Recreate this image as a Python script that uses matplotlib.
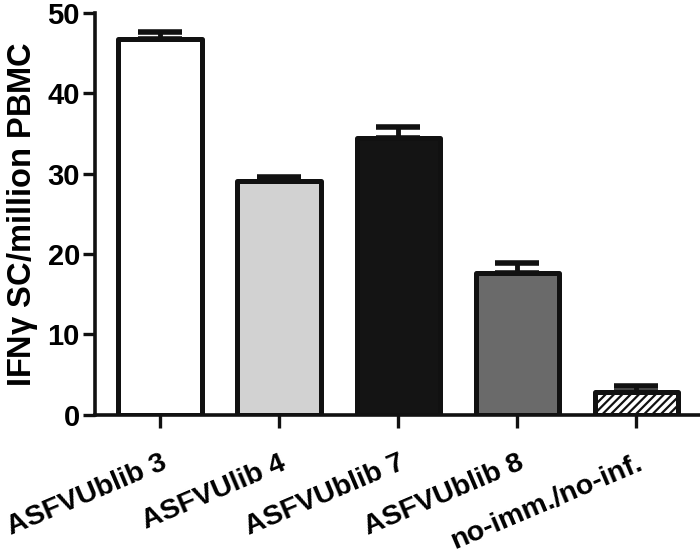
import numpy as np
import matplotlib
matplotlib.use("Agg")
import matplotlib.pyplot as plt

plt.rcParams["font.family"] = ["Liberation Sans", "DejaVu Sans"]
plt.rcParams["font.weight"] = "bold"
plt.rcParams["hatch.linewidth"] = 1.6

# values
groups = ["ASFVUblib 3", "ASFVUlib 4", "ASFVUblib 7", "ASFVUblib 8", "no-imm./no-inf."]
means = [46.8, 29.1, 34.4, 17.6, 2.8]
sem = [0.8, 0.5, 1.4, 1.3, 0.8]
fills = ["white", "#d2d2d2", "#141414", "#6a6a6a", "white"]
hatches = ["", "", "", "", "////"]

fig = plt.figure(figsize=(7, 5.56), dpi=100)
ax = fig.add_axes([0.136, 0.254, 0.864, 0.723])

x = np.arange(len(groups))
ax.errorbar(x, means, yerr=[np.zeros(len(sem)), sem], fmt="none", ecolor="#111111",
            elinewidth=3.5, capsize=16, capthick=4, zorder=1)
bars = ax.bar(x, means, width=0.7, color=fills, edgecolor="#111111", linewidth=3.6,
              zorder=2)
for b, h in zip(bars, hatches):
    b.set_hatch(h)
    b.set_joinstyle("round")

ax.set_xlim(-0.545, 4.535)
ax.set_ylim(0, 50)
ax.set_yticks([0, 10, 20, 30, 40, 50])
ax.set_xticks(x)
ax.set_xticklabels(groups, rotation=23, ha="right", rotation_mode="anchor",
                   fontsize=20.5, fontweight="bold")
ax.tick_params(axis="y", labelsize=21, width=2.4, length=9, pad=2, color="#111111")
ax.tick_params(axis="x", width=2.4, length=9, pad=16.5, color="#111111")
for lab in ax.get_yticklabels():
    lab.set_fontweight("bold")

for s in ["top", "right"]:
    ax.spines[s].set_visible(False)
for s in ["left", "bottom"]:
    ax.spines[s].set_linewidth(2.6)
    ax.spines[s].set_color("#111111")
    ax.spines[s].set_zorder(3)

ax.set_ylabel("IFN$\\mathregular{\\gamma}$ SC/million PBMC", fontsize=23.5,
              fontweight="bold", labelpad=5)

fig.savefig("out.png", dpi=100)
